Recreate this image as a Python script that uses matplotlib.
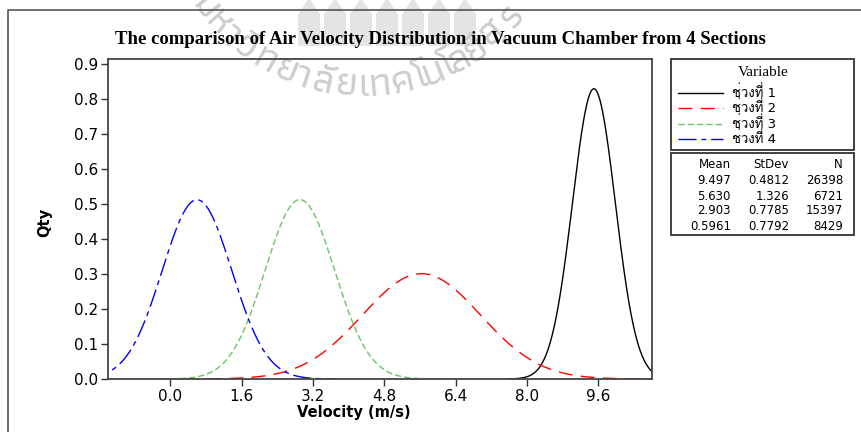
# Normal distribution fit of air velocity for the 4 sections of the vacuum chamber
import matplotlib
matplotlib.use("Agg")
import matplotlib.pyplot as plt
from matplotlib.lines import Line2D
from matplotlib.patches import Rectangle, Polygon
import numpy as np

LABELS = ["ช่วงที่ 1", "ช่วงที่ 2", "ช่วงที่ 3", "ช่วงที่ 4"]
MEANS = [9.497, 5.630, 2.903, 0.5961]
STDEVS = [0.4812, 1.326, 0.7785, 0.7792]
COUNTS = [26398, 6721, 15397, 8429]
MEAN_TXT = ["9.497", "5.630", "2.903", "0.5961"]
STDEV_TXT = ["0.4812", "1.326", "0.7785", "0.7792"]

X_TICKS = [0.0, 1.6, 3.2, 4.8, 6.4, 8.0, 9.6]
Y_TICKS = [0.0, 0.1, 0.2, 0.3, 0.4, 0.5, 0.6, 0.7, 0.8, 0.9]

COLORS = ["black", "#ff0000", "#66c866", "#0000ff"]
DASHES = [None, (10, 6), (4.5, 2.2), (13, 3.5, 3.5, 3.5)]

W, H = 861, 432
THAI = ["DejaVu Sans", "Loma"]


def fx(px):
    return px / W


def fy(py):
    return 1 - py / H


def draw_watermark(fig):
    # university logo seen behind the chart, drawn light grey
    grey = "#cdcdcd"
    clusters = ["ม", "ห", "า", "วิ", "ท", "ย", "า", "ลั", "ย", "เ", "ท", "ค",
                "โ", "น", "โ", "ล", "ยี", "สุ", "ร"]
    angles = [-53, -47, -42, -36.5, -29.5, -22.5, -17.5, -11.5, -4.5, 0.5,
              5.5, 12, 17.5, 21.5, 26, 30, 35.5, 42.5, 50]
    cx, cy, r = 362, -110, 196
    for ch, a in zip(clusters, angles):
        t = np.radians(a)
        x = cx + r * np.sin(t)
        y = cy + r * np.cos(t)
        fig.text(fx(x), fy(y), ch, fontsize=29, family="Athiti", fontweight="medium",
                 color=grey, ha="center", va="center", rotation=a,
                 rotation_mode="anchor", zorder=-5)
    for i in range(7):
        x0 = 298 + i * 26
        pts = [(x0, 46), (x0, 14), (x0 + 11, -2), (x0 + 22, 14), (x0 + 22, 46)]
        fig.patches.append(Polygon([(fx(a), fy(b)) for a, b in pts], closed=True,
                                   transform=fig.transFigure, facecolor="#e4e4e4",
                                   edgecolor="none", zorder=-6))


def main():
    fig = plt.figure(figsize=(W / 100, H / 100), dpi=100)
    fig.patch.set_facecolor("white")
    draw_watermark(fig)

    # outer frame (only left and top edges are visible)
    fig.lines.append(Line2D([fx(8), fx(8), fx(861)], [fy(432), fy(10), fy(10)],
                            transform=fig.transFigure, color="#555555", lw=1.2))

    ax = fig.add_axes([fx(108), fy(379), fx(652) - fx(108), fy(59) - fy(379)])
    ax.patch.set_alpha(0)

    for mu, sd, col, dash in zip(MEANS, STDEVS, COLORS, DASHES):
        xs = np.linspace(mu - 4 * sd, mu + 4 * sd, 400)
        ys = np.exp(-0.5 * ((xs - mu) / sd) ** 2) / (sd * np.sqrt(2 * np.pi))
        line, = ax.plot(xs, ys, color=col, lw=1.0)
        if dash:
            line.set_dashes(dash)

    ax.set_xlim(-1.4, 10.8)
    ax.set_ylim(0, 0.914)
    ax.set_xticks(X_TICKS, [f"{v:.1f}" for v in X_TICKS])
    ax.set_yticks(Y_TICKS, [f"{v:.1f}" for v in Y_TICKS])
    ax.tick_params(axis="both", labelsize=11, length=5, width=1, color="#333333")
    ax.tick_params(axis="x", pad=2)
    ax.tick_params(axis="y", pad=2)
    for s in ax.spines.values():
        s.set_color("#444444")
        s.set_linewidth(1.3)

    fig.text(fx(354), fy(413), "Velocity (m/s)", fontsize=10.5, fontweight="bold",
             ha="center", va="center")
    fig.text(fx(45), fy(222), "Qty", fontsize=10.5, fontweight="bold",
             ha="center", va="center", rotation=90)
    fig.text(fx(440), fy(39), "The comparison of Air Velocity Distribution in Vacuum Chamber from 4 Sections",
             fontsize=13.5, family="Liberation Serif", fontweight="bold", ha="center", va="center")

    # legend box
    fig.patches.append(Rectangle((fx(671), fy(150)), fx(854) - fx(671), fy(59) - fy(150),
                                 transform=fig.transFigure, fill=False, edgecolor="#333333", lw=1.3))
    fig.text(fx(763), fy(72), "Variable", fontsize=11, family="Liberation Serif",
             ha="center", va="center")
    rows = [93, 108, 124, 139]
    for lab, col, dash, yy in zip(LABELS, COLORS, DASHES, rows):
        ln = Line2D([fx(678), fx(723)], [fy(yy), fy(yy)], transform=fig.transFigure,
                    color=col, lw=1.0)
        if dash:
            ln.set_dashes(dash)
        fig.lines.append(ln)
        fig.text(fx(732), fy(yy), lab, fontsize=9.5, family=THAI, ha="left", va="center")

    # stats box
    fig.patches.append(Rectangle((fx(671), fy(235)), fx(854) - fx(671), fy(153) - fy(235),
                                 transform=fig.transFigure, fill=False, edgecolor="#333333", lw=1.3))
    fig.text(fx(731), fy(165), "Mean", fontsize=8.5, ha="right", va="center")
    fig.text(fx(789), fy(165), "StDev", fontsize=8.5, ha="right", va="center")
    fig.text(fx(843), fy(165), "N", fontsize=8.5, ha="right", va="center")
    for m, s, n, yy in zip(MEAN_TXT, STDEV_TXT, COUNTS, [181, 196, 211, 226]):
        fig.text(fx(731), fy(yy), m, fontsize=8.5, ha="right", va="center")
        fig.text(fx(789), fy(yy), s, fontsize=8.5, ha="right", va="center")
        fig.text(fx(843), fy(yy), str(n), fontsize=8.5, ha="right", va="center")

    fig.savefig("out.png", dpi=100)


if __name__ == "__main__":
    main()
